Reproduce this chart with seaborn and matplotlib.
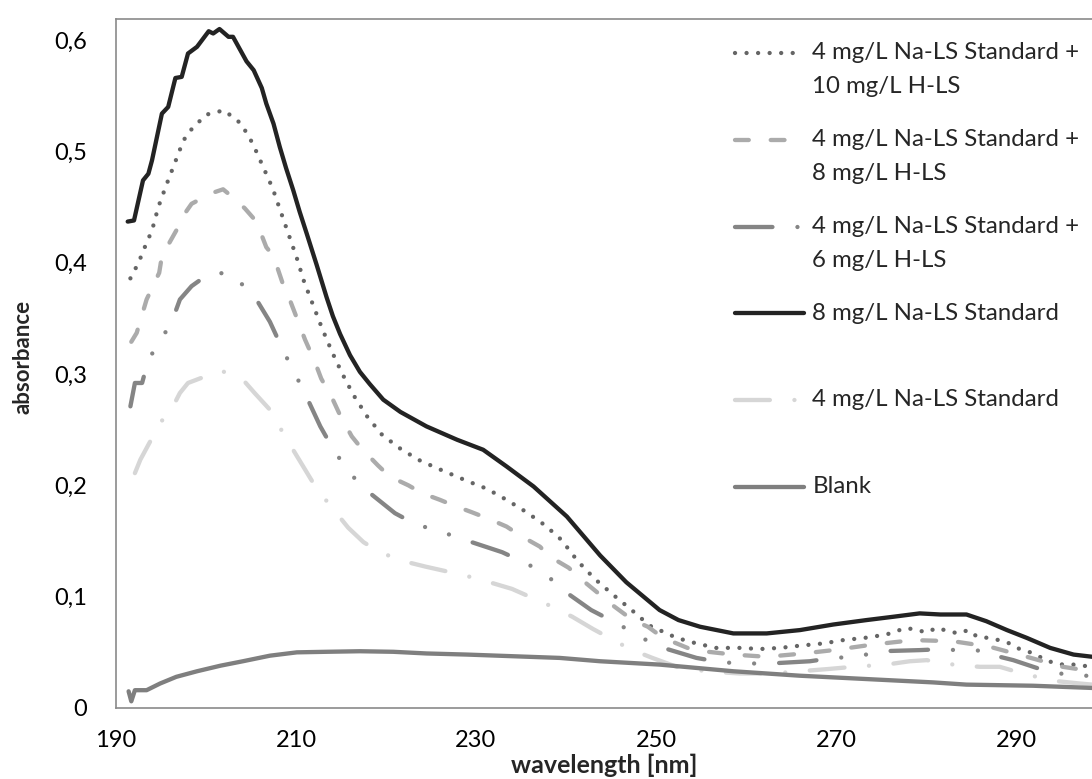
import matplotlib
matplotlib.use("Agg")
import numpy as np
import matplotlib.pyplot as plt
import seaborn as sns
from matplotlib.lines import Line2D
from matplotlib.legend_handler import HandlerLine2D

# series (wavelength nm, absorbance)
wl_10hls = [191.6, 192.5, 193.4, 194.0, 194.7, 195.6, 196.6, 197.5, 198.4, 200.0, 202.0, 203.9,
            205.2, 206.3, 207.4, 208.3, 209.2, 210.1, 210.9, 211.9, 212.9, 214.0, 215.1, 216.4,
            217.9, 219.5, 221.4, 223.6, 225.8, 229.0, 231.2, 233.4, 235.6, 237.7, 239.5, 241.3,
            243.2, 245.2, 247.3, 249.3, 252.3, 254.5, 256.7, 259.3, 261.6, 263.8, 266.0, 268.6,
            270.8, 273.2, 275.6, 277.8, 280.1, 281.2, 282.5, 283.6, 284.7, 285.7, 286.9, 288.1,
            289.3, 290.4, 291.6, 292.9, 294.0, 295.2, 296.4, 298.5]
abs_10hls = [0.386, 0.400, 0.418, 0.429, 0.450, 0.470, 0.491, 0.510, 0.520, 0.533, 0.537, 0.525,
             0.507, 0.487, 0.467, 0.446, 0.425, 0.404, 0.383, 0.362, 0.341, 0.320, 0.301, 0.281,
             0.262, 0.246, 0.234, 0.223, 0.215, 0.204, 0.197, 0.187, 0.176, 0.164, 0.151, 0.132,
             0.116, 0.102, 0.088, 0.074, 0.063, 0.058, 0.054, 0.054, 0.053, 0.054, 0.056, 0.058,
             0.061, 0.063, 0.066, 0.072, 0.068, 0.072, 0.069, 0.067, 0.070, 0.064, 0.063, 0.061,
             0.058, 0.053, 0.050, 0.045, 0.041, 0.039, 0.039, 0.037]

wl_8hls = [191.7, 192.3, 193.4, 194.8, 195.1, 196.7, 197.1, 198.4, 199.1, 200.8, 201.9, 202.5,
           204.3, 205.6, 206.7, 207.5, 208.5, 209.3, 210.3, 211.0, 212.1, 212.8, 214.1, 214.9,
           216.2, 217.3, 219.1, 220.4, 222.5, 224.0, 226.0, 227.5, 229.5, 231.4, 233.4, 234.9,
           237.1, 238.2, 240.3, 241.5, 243.6, 244.9, 247.4, 249.1, 250.8, 254.1, 258.6, 262.3,
           266.4, 269.7, 274.1, 278.6, 283.0, 287.1, 291.2, 295.2, 298.5]
abs_8hls = [0.329, 0.337, 0.367, 0.391, 0.406, 0.429, 0.438, 0.453, 0.456, 0.463, 0.466, 0.462,
            0.449, 0.437, 0.414, 0.406, 0.382, 0.367, 0.346, 0.331, 0.311, 0.296, 0.277, 0.263,
            0.244, 0.233, 0.218, 0.208, 0.200, 0.193, 0.187, 0.182, 0.176, 0.170, 0.163, 0.155,
            0.145, 0.136, 0.126, 0.117, 0.103, 0.094, 0.079, 0.073, 0.063, 0.052, 0.048, 0.046,
            0.049, 0.052, 0.057, 0.061, 0.060, 0.055, 0.046, 0.037, 0.033]

wl_6hls = [191.6, 192.1, 192.9, 193.6, 195.0, 196.2, 197.1, 198.4, 200.3, 202.6, 204.5, 205.6,
           207.1, 208.3, 209.5, 210.8, 212.7, 214.1, 215.6, 217.3, 221.0, 223.3, 225.9, 228.4,
           232.9, 235.3, 237.7, 239.3, 242.8, 245.9, 248.2, 250.4, 254.5, 257.3, 260.1, 262.7,
           267.1, 269.7, 272.3, 274.9, 279.3, 282.1, 284.3, 286.7, 288.2, 289.7, 292.3, 294.7,
           297.1, 298.5]
abs_6hls = [0.271, 0.292, 0.292, 0.313, 0.331, 0.347, 0.367, 0.379, 0.390, 0.391, 0.377, 0.367,
            0.347, 0.326, 0.306, 0.286, 0.253, 0.233, 0.215, 0.199, 0.175, 0.165, 0.159, 0.152,
            0.140, 0.131, 0.121, 0.108, 0.088, 0.075, 0.064, 0.055, 0.045, 0.041, 0.040, 0.040,
            0.042, 0.045, 0.046, 0.051, 0.052, 0.053, 0.051, 0.052, 0.046, 0.043, 0.036, 0.031,
            0.030, 0.028]

wl_8std = [191.3, 192.0, 193.0, 193.6, 194.0, 195.1, 195.8, 196.6, 197.3, 198.0, 199.0, 200.3,
           200.8, 201.5, 202.5, 203.0, 204.5, 205.3, 206.2, 206.7, 207.5, 208.2, 208.9, 209.7,
           210.4, 211.2, 212.3, 213.4, 214.1, 214.9, 216.0, 217.1, 218.2, 219.7, 221.6, 224.5,
           227.9, 230.8, 233.4, 236.4, 240.1, 243.8, 246.7, 250.4, 252.5, 254.9, 258.6, 262.3,
           266.0, 269.7, 273.4, 276.4, 279.3, 281.6, 284.5, 286.7, 289.0, 291.2, 293.8, 296.4,
           298.5]
abs_8std = [0.437, 0.438, 0.474, 0.480, 0.492, 0.534, 0.540, 0.566, 0.567, 0.588, 0.594, 0.608,
            0.606, 0.610, 0.603, 0.603, 0.581, 0.573, 0.557, 0.543, 0.525, 0.504, 0.485, 0.465,
            0.446, 0.426, 0.398, 0.369, 0.352, 0.336, 0.317, 0.302, 0.291, 0.277, 0.266, 0.253,
            0.241, 0.232, 0.217, 0.199, 0.172, 0.137, 0.113, 0.088, 0.079, 0.073, 0.067, 0.067,
            0.070, 0.075, 0.079, 0.082, 0.085, 0.084, 0.084, 0.078, 0.070, 0.063, 0.054, 0.048,
            0.046]

wl_4std = [192.1, 192.7, 193.7, 195.0, 196.4, 197.1, 198.0, 199.3, 201.7, 204.1, 205.4, 207.1,
           208.5, 209.9, 212.3, 214.0, 215.8, 217.5, 219.3, 221.9, 224.4, 228.8, 231.5, 234.0,
           238.2, 240.7, 243.0, 247.1, 249.6, 252.3, 255.6, 259.3, 263.0, 266.0, 269.1, 271.9,
           275.6, 278.2, 280.1, 282.0, 284.2, 286.0, 288.2, 290.3, 292.3, 294.7, 297.1, 298.5]
abs_4std = [0.211, 0.223, 0.238, 0.257, 0.272, 0.283, 0.292, 0.296, 0.303, 0.295, 0.283, 0.268,
            0.248, 0.229, 0.197, 0.180, 0.162, 0.149, 0.140, 0.132, 0.127, 0.119, 0.113, 0.107,
            0.092, 0.082, 0.071, 0.053, 0.045, 0.037, 0.033, 0.031, 0.031, 0.033, 0.035, 0.037,
            0.039, 0.042, 0.043, 0.040, 0.038, 0.037, 0.037, 0.032, 0.028, 0.024, 0.022, 0.021]

wl_blank = [191.4, 191.7, 192.1, 193.4, 194.9, 196.7, 199.0, 201.6, 204.1, 207.1, 210.1, 213.4,
            217.1, 220.8, 224.5, 229.0, 239.3, 243.8, 250.4, 258.6, 266.0, 273.4, 280.8, 284.5,
            291.9, 298.5]
abs_blank = [0.015, 0.006, 0.016, 0.016, 0.022, 0.028, 0.033, 0.038, 0.042, 0.047, 0.050, 0.0505,
             0.051, 0.0505, 0.049, 0.048, 0.045, 0.042, 0.039, 0.033, 0.029, 0.026, 0.023, 0.021,
             0.020, 0.018]

labels = ["4 mg/L Na-LS Standard +\n10 mg/L H-LS",
          "4 mg/L Na-LS Standard +\n8 mg/L H-LS",
          "4 mg/L Na-LS Standard +\n6 mg/L H-LS",
          "8 mg/L Na-LS Standard\n",
          "4 mg/L Na-LS Standard\n",
          "Blank\n"]
xticks = [190, 210, 230, 250, 270, 290]
yticks = [0, 0.1, 0.2, 0.3, 0.4, 0.5, 0.6]
ytick_labels = ["0", "0,1", "0,2", "0,3", "0,4", "0,5", "0,6"]


class FirstLineHandler(HandlerLine2D):
    # put the legend line next to the first text line instead of the middle
    def create_artists(self, *args, **kwargs):
        artists = super().create_artists(*args, **kwargs)
        for a in artists:
            a.set_ydata(np.asarray(a.get_ydata(), float) + 11.9)
        return artists


sns.set_style("white")
plt.rcParams["font.family"] = ["Lato", "DejaVu Sans"]

fig = plt.figure(figsize=(10.92, 7.79), dpi=100)
ax = fig.add_axes([116 / 1092, 1 - 708 / 779, 976 / 1092, 689 / 779])

lw = 3.1
styles = [
    ("#656565", (0, (0.01, 2.67))),
    ("#ababab", (0, (3.2, 5.1))),
    ("#858585", (0, (8.7, 5.8, 0.01, 5.8, 0.01, 5.8))),
    ("#232323", "-"),
    ("#d6d6d6", (0, (8.1, 5.7, 0.01, 5.7))),
    ("#7f7f7f", "-"),
]
data = [(wl_10hls, abs_10hls), (wl_8hls, abs_8hls), (wl_6hls, abs_6hls),
        (wl_8std, abs_8std), (wl_4std, abs_4std), (wl_blank, abs_blank)]

for (x, y), (col, ls), lab in zip(data, styles, labels):
    sns.lineplot(x=x, y=y, ax=ax, color=col, linestyle=ls, linewidth=lw,
                 dash_capstyle="round", solid_capstyle="round", solid_joinstyle="round",
                 sort=False, estimator=None, label=lab)

ax.set_xlim(190, 298.45)
ax.set_ylim(0, 0.619)
ax.set_xticks(xticks)
ax.set_xticklabels([str(t) for t in xticks])
ax.set_yticks(yticks)
ax.set_yticklabels(ytick_labels)

spine_col = "#8a8a8a"
for side in ["left", "bottom", "top"]:
    ax.spines[side].set_color(spine_col)
    ax.spines[side].set_linewidth(1.2)
ax.spines["right"].set_visible(False)
ax.tick_params(axis="both", direction="out", length=5, width=1.1, color=spine_col,
               labelsize=17, labelcolor="black")
ax.tick_params(axis="x", pad=10.5)
ax.tick_params(axis="y", pad=16)

ax.set_xlabel("wavelength [nm]", fontsize=18, fontweight="bold")
ax.set_ylabel("absorbance", fontsize=16, fontweight="bold")
ax.xaxis.set_label_coords(0.5, -0.0665)
ax.yaxis.set_label_coords(-0.085, 0.51)

handles, _ = ax.get_legend_handles_labels()
leg = ax.legend(handles, labels, loc="upper left", bbox_to_anchor=(0.634, 0.966),
                frameon=False, fontsize=17.3, handlelength=2.9, handletextpad=0.33,
                labelspacing=1.33, borderpad=0, borderaxespad=0,
                handler_map={Line2D: FirstLineHandler()})
for t in leg.get_texts():
    t.set_linespacing(1.75)

fig.savefig("out.png", dpi=100)
